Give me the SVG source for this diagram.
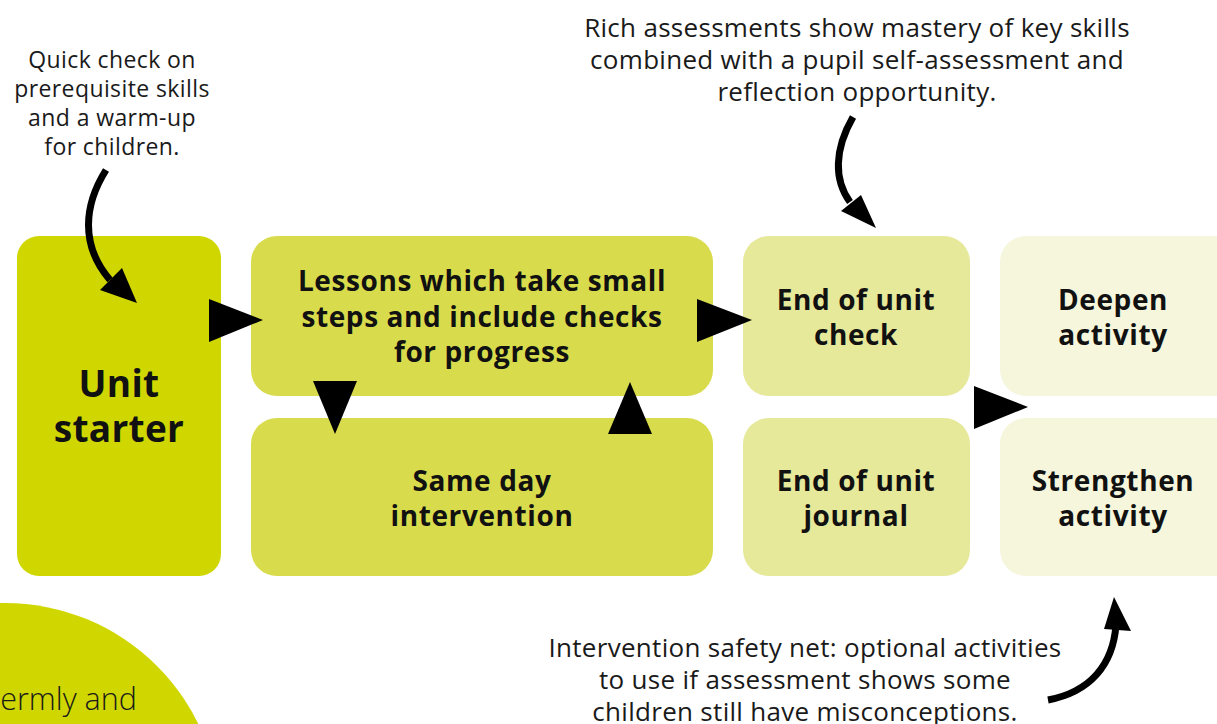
<svg xmlns="http://www.w3.org/2000/svg" width="1217" height="724" viewBox="0 0 1217 724">
<style>
.lbl{font-family:"Open Sans","Liberation Sans",sans-serif;font-weight:700;fill:#111;text-anchor:middle;font-size:28px;letter-spacing:0.6px}
.note{font-family:"Open Sans","Liberation Sans",sans-serif;font-weight:400;fill:#1a1a1a;text-anchor:middle;font-size:26px;letter-spacing:0.3px}
.arr{fill:none;stroke:#000;stroke-width:7}
.tri{fill:#000}
</style>
<rect width="1217" height="724" fill="#fff"/>
<g id="bg-circle">
<circle cx="5" cy="818" r="215" fill="#d0d700"/>
<text x="-10" y="710" font-family="'Open Sans','Liberation Sans',sans-serif" font-weight="300" font-size="30.5" fill="#1a1a1a">termly and</text>
</g>
<g id="unit-starter">
<rect x="17" y="236" width="204" height="340" rx="22" fill="#d0d700"/>
<text class="lbl" style="font-size:37px;letter-spacing:0.3px"><tspan x="119" y="397">Unit</tspan><tspan x="119" y="442">starter</tspan></text>
</g>
<g id="lessons">
<rect x="251" y="236" width="462" height="160" rx="26" fill="#d8dc4c"/>
<text class="lbl"><tspan x="482" y="291">Lessons which take small</tspan><tspan x="482" y="327">steps and include checks</tspan><tspan x="482" y="362">for progress</tspan></text>
</g>
<g id="same-day">
<rect x="251" y="418" width="462" height="158" rx="26" fill="#d8dc4c"/>
<text class="lbl"><tspan x="482" y="491">Same day</tspan><tspan x="482" y="526">intervention</tspan></text>
</g>
<g id="end-check">
<rect x="743" y="236" width="227" height="160" rx="26" fill="#e6e89a"/>
<text class="lbl"><tspan x="856" y="310">End of unit</tspan><tspan x="856" y="345">check</tspan></text>
</g>
<g id="end-journal">
<rect x="743" y="418" width="227" height="158" rx="26" fill="#e6e89a"/>
<text class="lbl"><tspan x="856" y="491">End of unit</tspan><tspan x="856" y="526">journal</tspan></text>
</g>
<g id="deepen">
<rect x="1000" y="236" width="250" height="160" rx="26" fill="#f5f6dc"/>
<text class="lbl"><tspan x="1113" y="310">Deepen</tspan><tspan x="1113" y="345">activity</tspan></text>
</g>
<g id="strengthen">
<rect x="1000" y="418" width="250" height="158" rx="26" fill="#f5f6dc"/>
<text class="lbl"><tspan x="1113" y="491">Strengthen</tspan><tspan x="1113" y="526">activity</tspan></text>
</g>
<g id="note-quick">
<text class="note" style="font-size:23px;letter-spacing:0.4px"><tspan x="112" y="68">Quick check on</tspan><tspan x="112" y="97">prerequisite skills</tspan><tspan x="112" y="126">and a warm-up</tspan><tspan x="112" y="155">for children.</tspan></text>
</g>
<g id="note-rich">
<text class="note"><tspan x="857" y="37">Rich assessments show mastery of key skills</tspan><tspan x="857" y="69">combined with a pupil self-assessment and</tspan><tspan x="857" y="101">reflection opportunity.</tspan></text>
</g>
<g id="note-safety">
<text class="note"><tspan x="805" y="657">Intervention safety net: optional activities</tspan><tspan x="805" y="689">to use if assessment shows some</tspan><tspan x="805" y="721">children still have misconceptions.</tspan></text>
</g>
<g id="connectors">
<polygon class="tri" points="209,299 209,342 263,320"/>
<polygon class="tri" points="697,299 697,342 752,320"/>
<polygon class="tri" points="313,381 357,381 335,434"/>
<polygon class="tri" points="608,434 652,434 630,382"/>
<polygon class="tri" points="974,386 974,429 1028,407"/>
<path class="arr" d="M106,170 C84,205 80,245 110,280"/>
<polygon class="tri" points="100,290 122,268 137,303"/>
<path class="arr" d="M853,117 C834,150 834,180 850,202"/>
<polygon class="tri" points="841,211 861,195 876,228"/>
<path class="arr" d="M1048,700 C1090,692 1113,665 1116,625"/>
<polygon class="tri" points="1104,629 1131,631 1114,597"/>
</g>
</svg>
